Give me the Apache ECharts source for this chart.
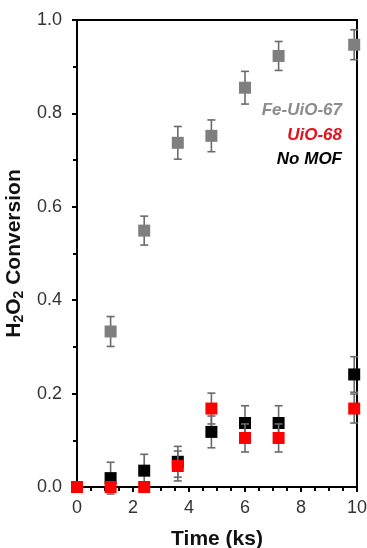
<!DOCTYPE html>
<html>
<head>
<meta charset="utf-8">
<style>
  html, body { margin: 0; padding: 0; background: #fff; }
  #chart { width: 367px; height: 548px; }
</style>
<script src="https://cdn.jsdelivr.net/npm/echarts@6/dist/echarts.min.js"></script>
</head>
<body>
<div id="chart"></div>
<script>
// Sampling times (ks)
const timeFe = [1.2, 2.4, 3.6, 4.8, 6.0, 7.2, 9.9];
const timeAll = [0, 1.2, 2.4, 3.6, 4.8, 6.0, 7.2, 9.9];

// H2O2 conversion and standard deviations
const feUiO67 = [0.333, 0.549, 0.737, 0.752, 0.855, 0.923, 0.947];
const feUiO67Err = [0.032, 0.031, 0.035, 0.034, 0.035, 0.031, 0.032];

const uiO68 = [0, 0, 0, 0.045, 0.168, 0.105, 0.105, 0.168];
const uiO68Err = [0, 0, 0, 0.032, 0.033, 0.030, 0.030, 0.031];

const noMOF = [0, 0.019, 0.035, 0.054, 0.118, 0.137, 0.137, 0.241];
const noMOFErr = [0, 0.034, 0.035, 0.033, 0.034, 0.037, 0.037, 0.038];

const seriesNames = ['Fe-UiO-67', 'UiO-68', 'No MOF'];
const seriesColors = ['#7f7f7f', '#ff0000', '#000000'];
const labelColors = ['#8c8c8c', '#e8101a', '#000000'];

const xTicks = [0, 2, 4, 6, 8, 10];
const yTicks = [0, 0.2, 0.4, 0.6, 0.8, 1.0];

function pairs(xs, ys) { return xs.map((x, i) => [x, ys[i]]); }
function errData(xs, ys, es) { return xs.map((x, i) => [x, ys[i] - es[i], ys[i] + es[i]]); }

function errorBars(name, data, z) {
  return {
    type: 'custom',
    name: name + ' err',
    z: z,
    silent: true,
    data: data,
    renderItem: function (params, api) {
      const x = api.value(0), lo = api.value(1), hi = api.value(2);
      if (hi - lo <= 0) return null;
      const pLo = api.coord([x, lo]);
      const pHi = api.coord([x, hi]);
      const cap = 4;
      const style = { stroke: '#6a6a6a', lineWidth: 1.6 };
      return {
        type: 'group',
        children: [
          { type: 'line', shape: { x1: pLo[0], y1: pLo[1], x2: pHi[0], y2: pHi[1] }, style: style },
          { type: 'line', shape: { x1: pLo[0] - cap, y1: pLo[1], x2: pLo[0] + cap, y2: pLo[1] }, style: style },
          { type: 'line', shape: { x1: pHi[0] - cap, y1: pHi[1], x2: pHi[0] + cap, y2: pHi[1] }, style: style }
        ]
      };
    }
  };
}

function markers(name, data, color, z) {
  return {
    type: 'scatter',
    name: name,
    z: z,
    symbol: 'rect',
    symbolSize: 12,
    itemStyle: { color: color, opacity: 1 },
    data: data
  };
}

const chart = echarts.init(document.getElementById('chart'), null, { renderer: 'canvas' });

const legendTexts = seriesNames.map((n, i) => ({
  type: 'text',
  right: 25,
  top: 102 + i * 24.5,
  style: {
    text: n,
    fill: labelColors[i],
    font: 'italic bold 17px "Liberation Sans", Arial, sans-serif',
    textAlign: 'right'
  }
}));

chart.setOption({
  animation: false,
  backgroundColor: '#fff',
  grid: {
    left: 77, right: 10, top: 20, bottom: 61,
    containLabel: false,
    outerBoundsMode: 'none',
    show: true, borderColor: '#000', borderWidth: 2, backgroundColor: 'transparent'
  },
  xAxis: {
    type: 'value',
    min: xTicks[0], max: xTicks[xTicks.length - 1], interval: 2,
    name: 'Time (ks)',
    nameLocation: 'middle',
    nameGap: 42,
    nameTextStyle: { fontFamily: '"Liberation Sans", Arial', fontWeight: 'bold', fontSize: 21, color: '#111' },
    axisLine: { show: true, lineStyle: { color: '#000', width: 2 } },
    axisTick: { show: true, inside: false, length: 5, lineStyle: { color: '#000', width: 2 } },
    minorTick: { show: true, splitNumber: 4, length: 4, lineStyle: { color: '#000', width: 2 } },
    axisLabel: { fontFamily: '"Liberation Sans", Arial', fontSize: 18, color: '#333', margin: 12 },
    splitLine: { show: false }
  },
  yAxis: {
    type: 'value',
    min: yTicks[0], max: yTicks[yTicks.length - 1], interval: 0.2,
    name: '{a|H}{s|2}{a|O}{s|2}{a| Conversion}',
    nameLocation: 'middle',
    nameRotate: 90,
    nameGap: 48,
    nameTextStyle: {
      rich: {
        a: { fontFamily: '"Liberation Sans", Arial', fontWeight: 'bold', fontSize: 21, color: '#111' },
        s: { fontFamily: '"Liberation Sans", Arial', fontWeight: 'bold', fontSize: 14, color: '#111', verticalAlign: 'bottom', padding: [10, 0, 0, 0] }
      }
    },
    axisLine: { show: true, lineStyle: { color: '#000', width: 2 } },
    axisTick: { show: true, inside: false, length: 5, lineStyle: { color: '#000', width: 2 } },
    minorTick: { show: true, splitNumber: 2, length: 4, lineStyle: { color: '#000', width: 2 } },
    axisLabel: {
      fontFamily: '"Liberation Sans", Arial', fontSize: 18, color: '#333', margin: 15,
      formatter: v => v.toFixed(1)
    },
    splitLine: { show: false }
  },
  graphic: legendTexts,
  series: [
    errorBars(seriesNames[0], errData(timeFe, feUiO67, feUiO67Err), 2),
    markers(seriesNames[0], pairs(timeFe, feUiO67), seriesColors[0], 3),
    errorBars(seriesNames[2], errData(timeAll, noMOF, noMOFErr), 4),
    markers(seriesNames[2], pairs(timeAll, noMOF), seriesColors[2], 5),
    errorBars(seriesNames[1], errData(timeAll, uiO68, uiO68Err), 6),
    markers(seriesNames[1], pairs(timeAll, uiO68), seriesColors[1], 7)
  ]
});
</script>
</body>
</html>
